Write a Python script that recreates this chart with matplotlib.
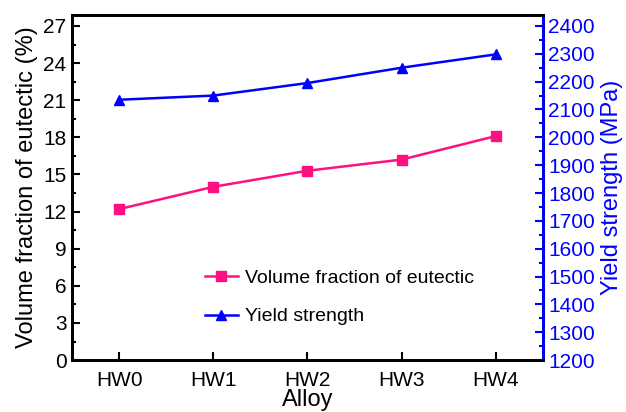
import matplotlib
matplotlib.use("Agg")
import matplotlib.pyplot as plt
from matplotlib.ticker import MultipleLocator, AutoMinorLocator

plt.rcParams['font.family'] = ['Liberation Sans', 'DejaVu Sans']

alloys = ["HW0", "HW1", "HW2", "HW3", "HW4"]
eutectic_frac = [12.2, 14.0, 15.3, 16.2, 18.1]
yield_strength = [2135, 2150, 2195, 2250, 2298]

pink = "#FF0F80"
blue = "#0000FF"

fig = plt.figure(figsize=(6.26, 4.12), dpi=100)
ax = fig.add_axes([0.115, 0.126, 0.752, 0.838])
ax2 = ax.twinx()

x = list(range(len(alloys)))
l1, = ax.plot(x, eutectic_frac, color=pink, marker='s', markersize=6.5, lw=1.8,
              label="Volume fraction of eutectic")
l2, = ax2.plot(x, yield_strength, color=blue, marker='^', markersize=7.5, lw=1.8,
               label="Yield strength")

ax.set_xlim(-0.5, 4.5)
ax.set_ylim(0, 27.9)
ax2.set_ylim(1200, 2440)
ax.set_xticks(x)
ax.set_xticklabels(alloys)
ax.yaxis.set_major_locator(MultipleLocator(3))
ax.yaxis.set_minor_locator(AutoMinorLocator(2))
ax2.yaxis.set_major_locator(MultipleLocator(100))
ax2.yaxis.set_minor_locator(AutoMinorLocator(2))

for a in (ax, ax2):
    for s in a.spines.values():
        s.set_linewidth(2)
ax2.spines['right'].set_color(blue)

ax.tick_params(axis='both', which='both', direction='in', labelsize=15, width=1.5)
ax.tick_params(axis='both', which='major', length=6)
ax.tick_params(axis='y', which='minor', length=3)
ax.tick_params(axis='x', which='minor', bottom=False)
ax.tick_params(axis='x', pad=8)
ax.tick_params(axis='y', pad=4)
ax2.tick_params(axis='y', which='both', direction='in', colors=blue, labelsize=15, width=1.5, pad=4)
ax2.tick_params(axis='y', which='major', length=6)
ax2.tick_params(axis='y', which='minor', length=3)

ax.set_xlabel("Alloy", fontsize=17, labelpad=-1)
ax.set_ylabel("Volume fraction of eutectic (%)", fontsize=17, labelpad=4)
ax2.set_ylabel("Yield strength (MPa)", fontsize=17, color=blue, labelpad=4)

ax.legend(handles=[l1, l2], loc='lower left', bbox_to_anchor=(0.245, 0.05),
          frameon=False, fontsize=14, labelspacing=1.05, handlelength=1.7,
          handletextpad=0.35)

fig.savefig("out.png", dpi=100)
